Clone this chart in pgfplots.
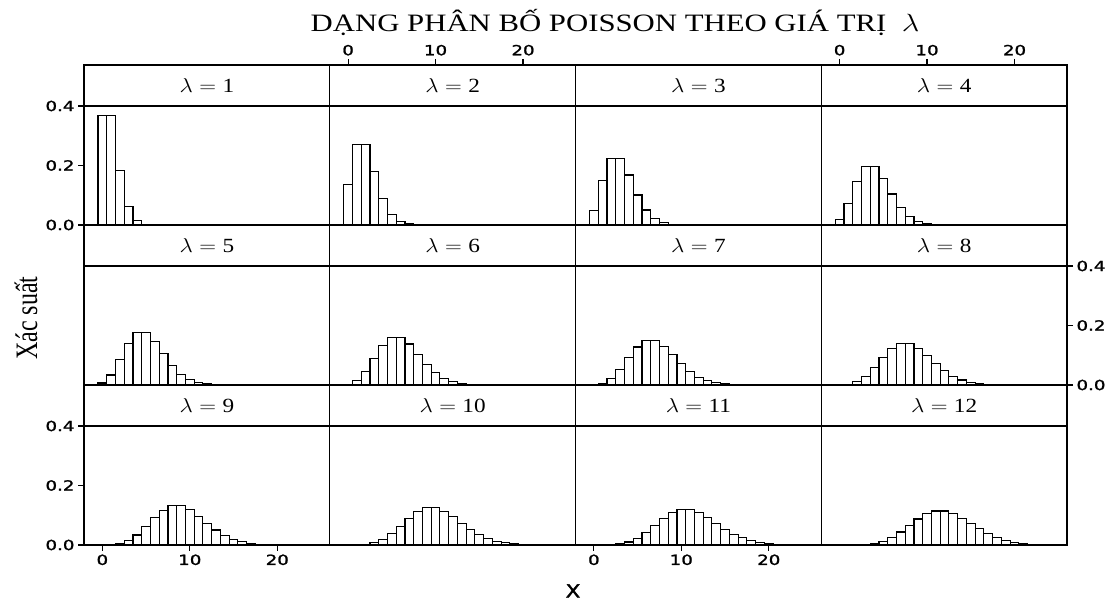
\documentclass[border=0pt]{standalone}
\usepackage{fontspec}
\setmainfont{Liberation Serif}
\newfontfamily\tickfont[FakeStretch=1.3,FakeBold=1.5]{DejaVu Sans}
\newfontfamily\xfont[FakeStretch=1.2,FakeBold=2]{DejaVu Sans}
\usepackage{pgfplots}
\usepackage{pgfplotstable}
\pgfplotsset{compat=1.18}

\pgfplotstableread{
k p
0 0.3679
1 0.3679
2 0.1839
3 0.0613
4 0.0153
5 0.0031
6 0.0005
}\tA
\pgfplotstableread{
k p
0 0.1353
1 0.2707
2 0.2707
3 0.1804
4 0.0902
5 0.0361
6 0.0120
7 0.0034
8 0.0009
}\tB
\pgfplotstableread{
k p
0 0.0498
1 0.1494
2 0.2240
3 0.2240
4 0.1680
5 0.1008
6 0.0504
7 0.0216
8 0.0081
9 0.0027
10 0.0008
}\tC
\pgfplotstableread{
k p
0 0.0183
1 0.0733
2 0.1465
3 0.1954
4 0.1954
5 0.1563
6 0.1042
7 0.0595
8 0.0298
9 0.0132
10 0.0053
11 0.0019
12 0.0006
}\tD
\pgfplotstableread{
k p
0 0.0067
1 0.0337
2 0.0842
3 0.1404
4 0.1755
5 0.1755
6 0.1462
7 0.1044
8 0.0653
9 0.0363
10 0.0181
11 0.0082
12 0.0034
13 0.0013
14 0.0005
}\tE
\pgfplotstableread{
k p
0 0.0025
1 0.0149
2 0.0446
3 0.0892
4 0.1339
5 0.1606
6 0.1606
7 0.1377
8 0.1033
9 0.0688
10 0.0413
11 0.0225
12 0.0113
13 0.0052
14 0.0022
15 0.0009
16 0.0003
}\tF
\pgfplotstableread{
k p
0 0.0009
1 0.0064
2 0.0223
3 0.0521
4 0.0912
5 0.1277
6 0.1490
7 0.1490
8 0.1304
9 0.1014
10 0.0710
11 0.0452
12 0.0263
13 0.0142
14 0.0071
15 0.0033
16 0.0014
17 0.0006
}\tG
\pgfplotstableread{
k p
0 0.0003
1 0.0027
2 0.0107
3 0.0286
4 0.0573
5 0.0916
6 0.1221
7 0.1396
8 0.1396
9 0.1241
10 0.0993
11 0.0722
12 0.0481
13 0.0296
14 0.0169
15 0.0090
16 0.0045
17 0.0021
18 0.0009
19 0.0004
}\tH
\pgfplotstableread{
k p
1 0.0011
2 0.0050
3 0.0150
4 0.0337
5 0.0607
6 0.0911
7 0.1171
8 0.1318
9 0.1318
10 0.1186
11 0.0970
12 0.0728
13 0.0504
14 0.0324
15 0.0194
16 0.0109
17 0.0058
18 0.0029
19 0.0014
20 0.0006
}\tI
\pgfplotstableread{
k p
1 0.0005
2 0.0023
3 0.0076
4 0.0189
5 0.0378
6 0.0631
7 0.0901
8 0.1126
9 0.1251
10 0.1251
11 0.1137
12 0.0948
13 0.0729
14 0.0521
15 0.0347
16 0.0217
17 0.0128
18 0.0071
19 0.0037
20 0.0019
21 0.0009
22 0.0004
}\tJ
\pgfplotstableread{
k p
1 0.0002
2 0.0010
3 0.0037
4 0.0102
5 0.0224
6 0.0411
7 0.0646
8 0.0888
9 0.1085
10 0.1194
11 0.1194
12 0.1094
13 0.0926
14 0.0728
15 0.0534
16 0.0367
17 0.0237
18 0.0145
19 0.0084
20 0.0046
21 0.0024
22 0.0012
23 0.0006
}\tK
\pgfplotstableread{
k p
2 0.0004
3 0.0018
4 0.0053
5 0.0127
6 0.0255
7 0.0437
8 0.0655
9 0.0874
10 0.1048
11 0.1144
12 0.1144
13 0.1056
14 0.0905
15 0.0724
16 0.0543
17 0.0383
18 0.0255
19 0.0161
20 0.0097
21 0.0055
22 0.0030
23 0.0016
24 0.0008
25 0.0004
}\tL

\pgfplotsset{
  panel/.style={
    width=245.75pt, height=160pt, scale only axis,
    anchor=north west,
    xmin=-2.1, xmax=26, ymin=0, ymax=0.5378,
    axis line style={line width=1.4pt},
    every tick/.style={line width=1.2pt, black},
    major tick length=6pt, tick align=outside,
    xtick=\empty, ytick=\empty,
    ticklabel style={font=\tickfont\fontsize{14}{14}\selectfont},
    /pgf/number format/assume math mode=true,
    yticklabel style={/pgf/number format/fixed, /pgf/number format/fixed zerofill, /pgf/number format/precision=1},
    ybar, bar width=1, bar shift=0pt,
  },
  bars/.style={draw=black, fill=white, line width=1.1pt},
  yleft/.style={ytick={0,0.2,0.4}, ytick pos=left, yticklabel pos=left},
  yright/.style={ytick={0,0.2,0.4}, ytick pos=right, yticklabel pos=right},
  xtop/.style={xtick={0,10,20}, xtick pos=right, xticklabel pos=right},
  xbot/.style={xtick={0,10,20}, xtick pos=left, xticklabel pos=left},
}
\newcommand{\strip}[1]{%
  \draw[line width=1.4pt] (axis description cs:0,0.74375) -- (axis description cs:1,0.74375);
  \node at (axis description cs:0.5,0.8719) {\fontsize{20.74}{22}\selectfont\scalebox{1.12}[0.97]{$\lambda = \mbox{#1}$}};
}

\begin{document}
\begin{tikzpicture}
\path[use as bounding box] (0,0) rectangle (1114pt,601pt);

% row 1
\begin{axis}[panel, yleft, at={(84pt,536pt)}]
\addplot[bars] table[x=k,y=p] {\tA}; \strip{1}
\end{axis}
\begin{axis}[panel, xtop, at={(329.75pt,536pt)}]
\addplot[bars] table[x=k,y=p] {\tB}; \strip{2}
\end{axis}
\begin{axis}[panel, at={(575.5pt,536pt)}]
\addplot[bars] table[x=k,y=p] {\tC}; \strip{3}
\end{axis}
\begin{axis}[panel, xtop, at={(821.25pt,536pt)}]
\addplot[bars] table[x=k,y=p] {\tD}; \strip{4}
\end{axis}
% row 2
\begin{axis}[panel, at={(84pt,376pt)}]
\addplot[bars] table[x=k,y=p] {\tE}; \strip{5}
\end{axis}
\begin{axis}[panel, at={(329.75pt,376pt)}]
\addplot[bars] table[x=k,y=p] {\tF}; \strip{6}
\end{axis}
\begin{axis}[panel, at={(575.5pt,376pt)}]
\addplot[bars] table[x=k,y=p] {\tG}; \strip{7}
\end{axis}
\begin{axis}[panel, yright, at={(821.25pt,376pt)}]
\addplot[bars] table[x=k,y=p] {\tH}; \strip{8}
\end{axis}
% row 3
\begin{axis}[panel, yleft, xbot, at={(84pt,216pt)}]
\addplot[bars] table[x=k,y=p] {\tI}; \strip{9}
\end{axis}
\begin{axis}[panel, at={(329.75pt,216pt)}]
\addplot[bars] table[x=k,y=p] {\tJ}; \strip{10}
\end{axis}
\begin{axis}[panel, xbot, at={(575.5pt,216pt)}]
\addplot[bars] table[x=k,y=p] {\tK}; \strip{11}
\end{axis}
\begin{axis}[panel, at={(821.25pt,216pt)}]
\addplot[bars] table[x=k,y=p] {\tL}; \strip{12}
\end{axis}

\node[anchor=base] at (615pt,569pt) {\fontsize{25}{28}\selectfont\scalebox{1.23}[1]{DẠNG PHÂN BỐ POISSON THEO GIÁ TRỊ\ \ $\lambda$}};
\node[rotate=90] at (26pt,283pt) {\fontsize{24}{26}\selectfont\scalebox{1}[1.3]{Xác suất}};
\node at (573pt,10pt) {\xfont\fontsize{18}{18}\selectfont X};
\end{tikzpicture}
\end{document}
